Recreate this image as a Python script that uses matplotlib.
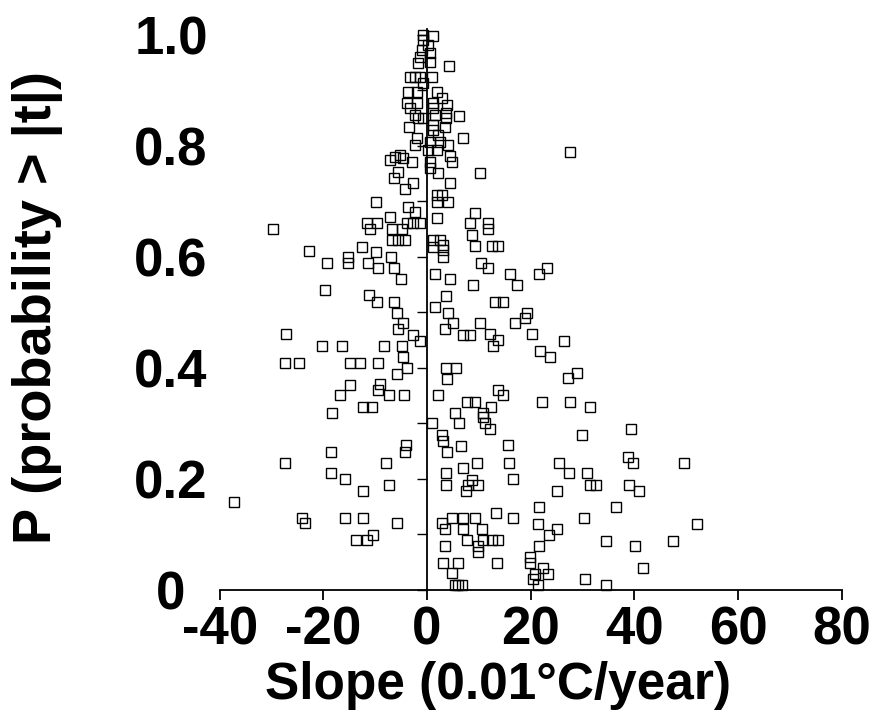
import matplotlib
matplotlib.use("Agg")
import matplotlib.pyplot as plt
from matplotlib.ticker import MultipleLocator
from matplotlib.font_manager import FontProperties

# Slope (0.01 °C/year) and P (probability > |t|)
slope = [
    -0.8, 1.2, -0.8, 0.2, -1.0, 0.6, -1.4, 0.6, -1.7, 4.3,
    -3.3, -2.3, -1.4, 1.0, -0.8,
    -3.7, -2.0, 1.9, 2.9,
    -3.9, -2.0, 1.2, 3.9,
    -3.3, -2.3, 1.2, 1.5, 3.7, 3.7, 6.2, -0.8, -1.7,
    -3.5, 1.2, 1.2, 3.5, 2.1, -2.0, 7.0,
    -2.3, 0.6, 2.5, 4.1, 0.2, 1.9,
    -7.1, -6.2, -5.2, -4.6, -2.9, 0.6, 4.4, 4.8,
    10.2, -5.6, 0.6, 2.1, -6.4, -2.7, 4.4, -4.2,
    -9.8, 1.9, 2.9, 1.9, 4.1,
    27.6,
    -3.7, -2.3,
    9.3, -29.7, -11.6, -9.7, -11.0, -7.1, -6.8, -4.8, -3.9, -2.7, -1.4, 1.9, 8.3, 8.7, 11.8, 11.8,
    -6.8, -5.6, -4.2,
    1.2, 2.5, 3.1, 1.2, 3.1, 3.1,
    9.3, 12.5, 13.7, -12.5, -22.8, -19.3, -15.2, -15.2, -11.4, -9.8, -9.5, -7.0, -6.4, -5.0,
    10.4, 11.8, 16.0, 17.4, 1.5, 4.4, 8.9,
    -19.7, -11.2, -9.7, -6.4, 3.7, 1.5, 13.1, 14.7,
    -5.8, 4.1, 5.0, -4.6, 10.2, 17.0,
    -5.6, 3.5, -2.7, 7.0, 8.3, 12.2, 13.7, 12.7, -1.4, -27.2,
    -20.3, -16.4, -8.3, -4.8,
    -27.4, -24.7, -14.9, -12.9, -9.5, -4.6, -3.9, -5.8,
    3.7, 5.6, 3.9, -14.9, -9.1, -9.5, -16.8, -7.3, -4.4, 2.1,
    13.7, 14.7,
    21.6, 23.2, 18.9, 19.3, 20.3, 26.4, 21.8, 23.7, 27.2, 29.0,
    7.7, 9.3, -18.3, -12.4, -10.6, 5.4, 10.8, 10.8, 11.2, 12.2, 12.4,
    1.0, 6.2, 2.9, 3.1, 3.9, 6.6, -4.1, -4.2, 15.6, -18.5,
    -27.4, -7.9, 9.7, 15.8, 7.0, -18.5, -15.8, 3.7, 3.7, -7.3, -12.4,
    8.7, 7.9, 9.8, 7.5, 16.6,
    -37.3, -24.1, -23.6, -15.8, -12.4, -5.8, -13.7, -11.6, -10.4,
    2.9, 4.8, 7.0, 9.3, 3.5, 7.0, 10.6, 13.3, 16.6,
    7.7, 9.8, 9.8, 10.8, 12.5, 13.7, 3.5, 3.1, 6.0, 13.5, 4.8, 5.4, 6.0, 6.8,
    22.2, 27.6, 31.5, 29.9, 39.4, 25.5, 38.8, 39.8, 49.6, 27.4, 30.9, 31.5, 32.6, 39.0, 40.9, 25.1,
    21.6, 36.5, 21.4, 23.6, 25.1, 30.3, 34.6, 40.2, 47.5, 52.1, 21.6, 19.9, 19.9, 22.4, 23.4, 20.8,
    20.5, 21.4, 41.7, 30.5, 34.6,
]
prob = [
    1.000, 0.998, 0.991, 0.982, 0.973, 0.967, 0.959, 0.951, 0.949, 0.944,
    0.924, 0.924, 0.924, 0.924, 0.912,
    0.896, 0.896, 0.896, 0.886,
    0.877, 0.877, 0.877, 0.874,
    0.867, 0.856, 0.867, 0.856, 0.859, 0.849, 0.853, 0.850, 0.849,
    0.834, 0.838, 0.829, 0.834, 0.820, 0.814, 0.814,
    0.802, 0.807, 0.807, 0.802, 0.793, 0.793,
    0.775, 0.780, 0.784, 0.778, 0.771, 0.771, 0.782, 0.771,
    0.751, 0.753, 0.760, 0.751, 0.741, 0.733, 0.733, 0.722,
    0.699, 0.712, 0.712, 0.699, 0.699,
    0.789,
    0.690, 0.681,
    0.679, 0.650, 0.661, 0.661, 0.650, 0.672, 0.650, 0.650, 0.661, 0.661, 0.661, 0.670, 0.661, 0.640, 0.661, 0.650,
    0.631, 0.631, 0.631,
    0.631, 0.631, 0.622, 0.618, 0.613, 0.600,
    0.620, 0.620, 0.620, 0.618, 0.611, 0.589, 0.600, 0.589, 0.589, 0.609, 0.580, 0.600, 0.580, 0.560,
    0.589, 0.580, 0.569, 0.550, 0.569, 0.560, 0.550,
    0.540, 0.531, 0.519, 0.519, 0.530, 0.510, 0.519, 0.519,
    0.499, 0.499, 0.481, 0.481, 0.481, 0.481,
    0.470, 0.470, 0.459, 0.459, 0.459, 0.461, 0.450, 0.440, 0.449, 0.461,
    0.440, 0.440, 0.440, 0.440,
    0.409, 0.409, 0.409, 0.409, 0.409, 0.420, 0.400, 0.389,
    0.400, 0.400, 0.380, 0.369, 0.371, 0.360, 0.351, 0.351, 0.351, 0.351,
    0.360, 0.351,
    0.569, 0.580, 0.490, 0.499, 0.461, 0.449, 0.431, 0.420, 0.382, 0.391,
    0.339, 0.339, 0.319, 0.330, 0.330, 0.319, 0.319, 0.312, 0.301, 0.290, 0.330,
    0.301, 0.301, 0.279, 0.268, 0.249, 0.259, 0.261, 0.249, 0.261, 0.249,
    0.229, 0.229, 0.229, 0.229, 0.220, 0.211, 0.200, 0.211, 0.189, 0.189, 0.178,
    0.198, 0.189, 0.189, 0.178, 0.200,
    0.159, 0.130, 0.121, 0.130, 0.130, 0.121, 0.090, 0.090, 0.099,
    0.121, 0.130, 0.130, 0.130, 0.110, 0.110, 0.110, 0.139, 0.130,
    0.090, 0.079, 0.068, 0.090, 0.090, 0.090, 0.079, 0.049, 0.049, 0.049, 0.031, 0.009, 0.009, 0.009,
    0.339, 0.339, 0.330, 0.279, 0.290, 0.229, 0.240, 0.229, 0.229, 0.211, 0.211, 0.189, 0.189, 0.189, 0.178, 0.178,
    0.150, 0.150, 0.119, 0.099, 0.110, 0.130, 0.088, 0.079, 0.088, 0.119, 0.079, 0.059, 0.049, 0.040, 0.029, 0.029,
    0.020, 0.009, 0.040, 0.020, 0.009,
]

x_ticks = [-40, -20, 0, 20, 40, 60, 80]
x_ticklabels = ["-40", "-20", "0", "20", "40", "60", "80"]
y_ticks = [0, 0.2, 0.4, 0.6, 0.8, 1.0]
y_ticklabels = ["0", "0.2", "0.4", "0.6", "0.8", "1.0"]

fig = plt.figure(figsize=(8.78, 7.12), dpi=100)
fig.patch.set_facecolor("white")
ax = fig.add_axes([219.6 / 878, 122 / 712, 622.2 / 878, 561 / 712])

ax.plot(slope, prob, ls="none", marker="s", ms=7.2, mfc="none", mec="black",
        mew=1.0, clip_on=False)

ax.set_xlim(-40, 80)
ax.set_ylim(0, 1.01)

for s in ("top", "right"):
    ax.spines[s].set_visible(False)
ax.spines["left"].set_position(("data", 0))
ax.spines["left"].set_linewidth(1.3)
ax.spines["bottom"].set_linewidth(1.3)

ax.set_xticks(x_ticks)
ax.set_xticklabels(x_ticklabels)
ax.set_yticks(y_ticks)
ax.set_yticklabels(y_ticklabels)
ax.yaxis.set_minor_locator(MultipleLocator(0.1))

tick_fp = FontProperties(family="Liberation Sans", weight="bold", size=38)
for lbl in ax.get_xticklabels():
    lbl.set_fontproperties(tick_fp)
for lbl in ax.get_yticklabels():
    lbl.set_fontproperties(tick_fp)
    lbl.set_ha("center")

ax.tick_params(axis="x", which="major", direction="out", length=7, width=1.3, pad=4)
# centre of y tick labels at ~171 px from the left edge
ax.tick_params(axis="y", which="both", direction="out", length=7, width=1.0,
               pad=(427 - 171) * 0.72 - 7)

label_font = dict(family="Liberation Sans", weight="bold", size=39)
ax.set_xlabel("Slope (0.01°C/year)", fontsize=37, family="Liberation Sans", weight="bold")
ax.xaxis.set_label_coords((498 - 219.6) / 622.2, (590 - 686) / 561)
ax.xaxis.label.set_va("center")
ax.set_ylabel("P (probability > |t|)", **label_font)
ax.yaxis.set_label_coords((37 - 219.6) / 622.2, (590 - 308) / 561)
ax.yaxis.label.set_va("center")

fig.savefig("out.png", dpi=100, facecolor="white")
